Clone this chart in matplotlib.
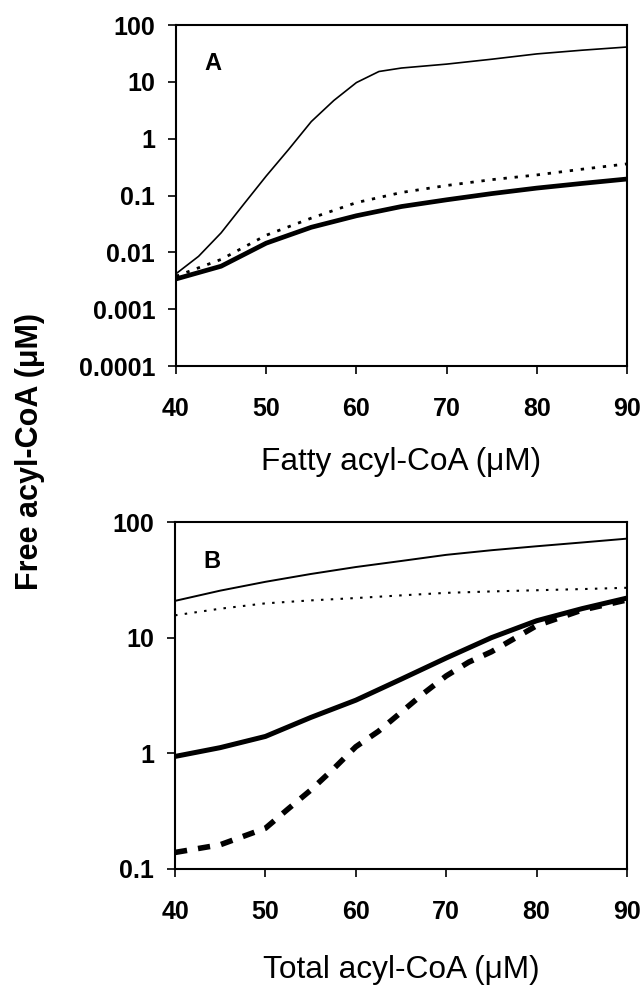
import matplotlib
matplotlib.use("Agg")
import matplotlib.pyplot as plt

plt.rcParams['font.family'] = ['Liberation Sans', 'DejaVu Sans']

# panel A: fatty acyl-CoA (uM)
xa = [40, 42.5, 45, 47.5, 50, 52.5, 55, 57.5, 60, 62.5, 65, 70, 75, 80, 85, 90]
a_thin = [0.0042, 0.0085, 0.022, 0.07, 0.22, 0.65, 2.0, 4.7, 9.7, 15.2, 17.5, 20.5, 25, 31, 36, 41]
xa2 = [40, 45, 50, 55, 60, 65, 70, 75, 80, 85, 90]
a_dot = [0.0038, 0.0075, 0.02, 0.04, 0.075, 0.113, 0.15, 0.19, 0.23, 0.29, 0.36]
a_thick = [0.0034, 0.0057, 0.0145, 0.0276, 0.044, 0.064, 0.084, 0.108, 0.135, 0.163, 0.195]

# panel B: total acyl-CoA (uM)
xb = [40, 45, 50, 55, 60, 65, 70, 75, 80, 85, 90]
b_thin = [20.8, 25.5, 30.4, 35.5, 40.8, 46, 52, 57, 61.7, 66.5, 71.8]
b_dot = [15.6, 17.8, 19.8, 21, 22, 23.2, 24.4, 25.1, 25.7, 26.3, 27]
b_thick = [0.94, 1.12, 1.40, 2.04, 2.88, 4.37, 6.67, 10.0, 14.0, 17.8, 22]
xb2 = [40, 45, 50, 52.5, 55, 57.5, 60, 62.5, 65, 67.5, 70, 72.5, 75, 80, 85, 90]
b_dash = [0.139, 0.162, 0.225, 0.33, 0.48, 0.73, 1.14, 1.55, 2.26, 3.3, 4.67, 6.15, 7.55, 12.7, 17.3, 21.2]

W, H = 644, 985
fig = plt.figure(figsize=(W / 100, H / 100), dpi=100)

def px_axes(l, t, r, b):
    return fig.add_axes([l / W, 1 - b / H, (r - l) / W, (b - t) / H])

axA = px_axes(176, 25, 627, 366)
axB = px_axes(175, 522, 627, 869)

axA.plot(xa, a_thin, color='black', lw=1.2)
axA.plot(xa2, a_dot, color='black', lw=2.0, dashes=(1.2, 2.8))
axA.plot(xa2, a_thick, color='black', lw=3.4, solid_capstyle='butt')

axB.plot(xb, b_thin, color='black', lw=1.4)
axB.plot(xb, b_dot, color='black', lw=1.5, dashes=(1.2, 3.5))
axB.plot(xb, b_thick, color='black', lw=3.6, solid_capstyle='butt')
axB.plot(xb2, b_dash, color='black', lw=4.0, dashes=(2.2, 2.0))

for ax in (axA, axB):
    ax.set_yscale('log')
    ax.set_xlim(40, 90)
    ax.set_xticks([40, 50, 60, 70, 80, 90])
    ax.yaxis.set_minor_locator(matplotlib.ticker.NullLocator())
    for s in ax.spines.values():
        s.set_linewidth(1.5)
    ax.tick_params(axis='x', direction='out', length=6, width=1.2, pad=16, labelsize=18)
    ax.tick_params(axis='y', direction='out', length=6, width=1.2, pad=9, labelsize=18)
    for lab in ax.get_xticklabels():
        lab.set_fontweight('bold')

axA.set_ylim(1e-4, 100)
axA.set_yticks([1e-4, 1e-3, 1e-2, 1e-1, 1, 10, 100])
axA.set_yticklabels(['0.0001', '0.001', '0.01', '0.1', '1', '10', '100'], fontweight='bold')
axB.set_ylim(0.1, 100)
axB.set_yticks([0.1, 1, 10, 100])
axB.set_yticklabels(['0.1', '1', '10', '100'], fontweight='bold')

fig.text(213 / W, 1 - 63 / H, 'A', ha='center', va='center', fontsize=17, fontweight='bold')
fig.text(212 / W, 1 - 561 / H, 'B', ha='center', va='center', fontsize=17, fontweight='bold')

fig.text(401 / W, 1 - 470 / H, 'Fatty acyl-CoA (\u03bcM)', ha='center', va='baseline', fontsize=22.8)
fig.text(401 / W, 1 - 978 / H, 'Total acyl-CoA (\u03bcM)', ha='center', va='baseline', fontsize=22.8)
fig.text(30 / W, 1 - 451 / H, 'Free acyl-CoA (\u03bcM)', ha='center', va='center', rotation=90,
         fontsize=22, fontweight='bold')

fig.savefig('out.png', dpi=100)
